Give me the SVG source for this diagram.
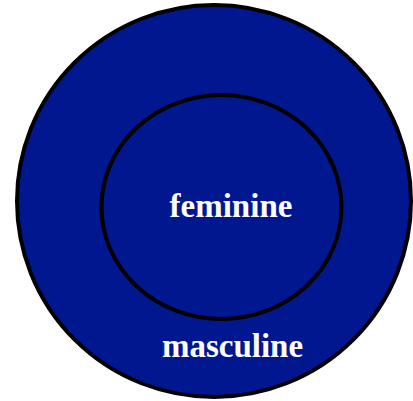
<svg xmlns="http://www.w3.org/2000/svg" width="413" height="401" viewBox="0 0 413 401">
<style>
.ring{fill:#00178f;stroke:#000;stroke-width:4}
.lbl{font-family:"Liberation Serif","Times New Roman",serif;font-weight:bold;font-size:33px;fill:#fff;text-anchor:middle}
</style>
<rect width="413" height="401" fill="#fff"/>
<g id="masculine">
<ellipse class="ring" cx="214" cy="201" rx="197" ry="196"/>
<text class="lbl" x="232.5" y="357">masculine</text>
</g>
<g id="feminine">
<ellipse class="ring" cx="221.5" cy="207" rx="120" ry="112"/>
<text class="lbl" x="231" y="217">feminine</text>
</g>
<g id="connectors"/>
</svg>
